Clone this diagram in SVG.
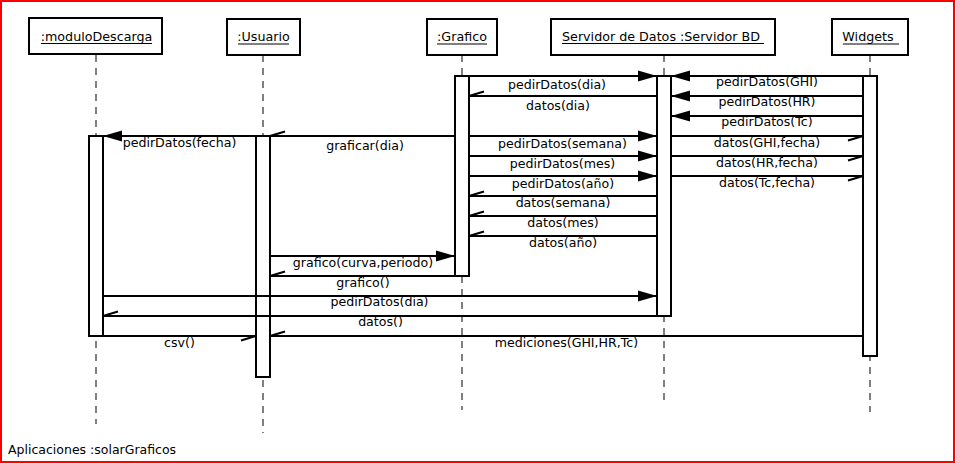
<svg xmlns="http://www.w3.org/2000/svg" width="956" height="464" viewBox="0 0 956 464">
<style>
.frame{fill:#fff;stroke:#f00;stroke-width:2}
.box{fill:#fff;stroke:#000;stroke-width:2}
.bar{fill:#fff;stroke:#000;stroke-width:2}
.life{stroke:#000;stroke-width:1;stroke-dasharray:7 6}
.ul{stroke:#000;stroke-width:1}
.nt{font-family:"DejaVu Sans",sans-serif;font-size:12.7px;fill:#000;text-anchor:middle}
.mt{font-family:"DejaVu Sans",sans-serif;font-size:12.6px;fill:#000;text-anchor:middle}
.ft{font-family:"DejaVu Sans",sans-serif;font-size:12.5px;fill:#000}
.call{stroke:#000;stroke-width:2;fill:none;marker-end:url(#filled)}
.ret{stroke:#000;stroke-width:2;fill:none;marker-end:url(#stick)}
</style>
<defs>
<marker id="filled" markerUnits="userSpaceOnUse" markerWidth="20" markerHeight="12" refX="0" refY="0" orient="auto" overflow="visible">
<path d="M-19,-5.5 L0,0 L-19,5.5 Z" fill="#000" stroke="none"/>
</marker>
<marker id="stick" markerUnits="userSpaceOnUse" markerWidth="16" markerHeight="6" refX="0" refY="0" orient="auto" overflow="visible">
<path d="M-15,4.5 L0,0" fill="none" stroke="#000" stroke-width="2"/>
</marker>
</defs>
<rect class="frame" x="1" y="1" width="953" height="461"/>

<g id="moduloDescarga">
<line class="life" x1="96" y1="55" x2="96" y2="424"/>
<rect class="box" x="29" y="18" width="133" height="36"/>
<text class="nt" x="96.5" y="40.5">:moduloDescarga</text>
<line class="ul" x1="41" y1="43.5" x2="152" y2="43.5"/>
<rect class="bar" x="89" y="136" width="14" height="200"/>
</g>

<g id="Usuario">
<line class="life" x1="263" y1="55" x2="263" y2="433"/>
<rect class="box" x="227" y="19" width="73" height="36"/>
<text class="nt" x="263.5" y="41">:Usuario</text>
<line class="ul" x1="238" y1="44" x2="289" y2="44"/>
<rect class="bar" x="256" y="136" width="14" height="241"/>
</g>

<g id="Grafico">
<line class="life" x1="462" y1="55" x2="462" y2="410"/>
<rect class="box" x="427" y="19" width="70" height="36"/>
<text class="nt" x="462" y="41">:Grafico</text>
<line class="ul" x1="437" y1="44" x2="487" y2="44"/>
<rect class="bar" x="455" y="76" width="14" height="200"/>
</g>

<g id="ServidorBD">
<line class="life" x1="664" y1="55" x2="664" y2="403"/>
<rect class="box" x="551" y="19" width="224" height="36"/>
<text class="nt" x="661" y="41">Servidor de Datos :Servidor BD</text>
<line class="ul" x1="562" y1="43.5" x2="764" y2="43.5"/>
<rect class="bar" x="657" y="76" width="14" height="240"/>
</g>

<g id="Widgets">
<line class="life" x1="870" y1="55" x2="870" y2="412"/>
<rect class="box" x="832" y="19" width="76" height="36"/>
<text class="nt" x="868" y="41">Widgets</text>
<line class="ul" x1="843" y1="44" x2="899" y2="44"/>
<rect class="bar" x="863" y="76" width="14" height="280"/>
</g>

<g id="connectors">
<line class="call" x1="469" y1="76" x2="657" y2="76"/>
<line class="call" x1="863" y1="76" x2="671" y2="76"/>
<line class="ret" x1="657" y1="96" x2="469" y2="96"/>
<line class="call" x1="863" y1="96" x2="671" y2="96"/>
<line class="call" x1="863" y1="116" x2="671" y2="116"/>
<line class="ret" x1="455" y1="136" x2="270" y2="136"/>
<line class="call" x1="256" y1="136" x2="103" y2="136"/>
<line class="call" x1="469" y1="136" x2="657" y2="136"/>
<line class="ret" x1="671" y1="136" x2="863" y2="136"/>
<line class="call" x1="469" y1="156" x2="657" y2="156"/>
<line class="ret" x1="671" y1="156" x2="863" y2="156"/>
<line class="call" x1="469" y1="176" x2="657" y2="176"/>
<line class="ret" x1="671" y1="176" x2="863" y2="176"/>
<line class="ret" x1="657" y1="196" x2="469" y2="196"/>
<line class="ret" x1="657" y1="216" x2="469" y2="216"/>
<line class="ret" x1="657" y1="236" x2="469" y2="236"/>
<line class="call" x1="270" y1="256" x2="455" y2="256"/>
<line class="ret" x1="455" y1="276" x2="270" y2="276"/>
<line class="call" x1="103" y1="296" x2="657" y2="296"/>
<line class="ret" x1="657" y1="316" x2="103" y2="316"/>
<line class="ret" x1="103" y1="336" x2="256" y2="336"/>
<line class="ret" x1="863" y1="336" x2="270" y2="336"/>

<text class="mt" x="557" y="89">pedirDatos(dia)</text>
<text class="mt" x="767" y="85.5">pedirDatos(GHI)</text>
<text class="mt" x="558" y="109.5">datos(dia)</text>
<text class="mt" x="767" y="105.5">pedirDatos(HR)</text>
<text class="mt" x="767" y="126">pedirDatos(Tc)</text>
<text class="mt" x="365" y="150">graficar(dia)</text>
<text class="mt" x="179.5" y="146.5">pedirDatos(fecha)</text>
<text class="mt" x="562.5" y="147.5">pedirDatos(semana)</text>
<text class="mt" x="767" y="146.5">datos(GHI,fecha)</text>
<text class="mt" x="562.5" y="167.5">pedirDatos(mes)</text>
<text class="mt" x="767" y="166.5">datos(HR,fecha)</text>
<text class="mt" x="563" y="187.5">pedirDatos(año)</text>
<text class="mt" x="767" y="186.5">datos(Tc,fecha)</text>
<text class="mt" x="563" y="207">datos(semana)</text>
<text class="mt" x="563" y="227">datos(mes)</text>
<text class="mt" x="563" y="247">datos(año)</text>
<text class="mt" x="363" y="267">grafico(curva,periodo)</text>
<text class="mt" x="363" y="287">grafico()</text>
<text class="mt" x="379.5" y="306">pedirDatos(dia)</text>
<text class="mt" x="380.5" y="326">datos()</text>
<text class="mt" x="179.5" y="346.5">csv()</text>
<text class="mt" x="566.5" y="346.5">mediciones(GHI,HR,Tc)</text>
</g>

<text class="ft" x="8" y="454">Aplicaciones :solarGraficos</text>
</svg>
